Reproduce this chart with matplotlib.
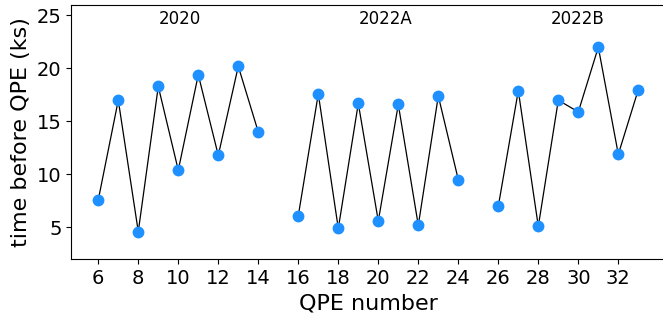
import numpy as np
import matplotlib
matplotlib.use("Agg")
import matplotlib.pyplot as plt

# QPE numbers and time before each QPE (ks), split by campaign
qpe_2020 = [6, 7, 8, 9, 10, 11, 12, 13, 14]
t_2020 = [7.6, 17.0, 4.6, 18.3, 10.4, 19.4, 11.8, 20.2, 14.0]

qpe_2022a = [16, 17, 18, 19, 20, 21, 22, 23, 24]
t_2022a = [6.1, 17.6, 4.9, 16.7, 5.6, 16.6, 5.2, 17.4, 9.5]

qpe_2022b = [26, 27, 28, 29, 30, 31, 32, 33]
t_2022b = [7.0, 17.9, 5.1, 17.0, 15.9, 22.0, 11.9, 18.0]

labels = ["2020", "2022A", "2022B"]
label_x = [9, 19, 28.6]

fig = plt.figure(figsize=(6.63, 3.22), dpi=100)
# right edge of the axes runs slightly past the picture, as in the original crop
ax = fig.add_axes([0.1075, 0.195, 0.896, 0.79])

for qpe, t in [(qpe_2020, t_2020), (qpe_2022a, t_2022a), (qpe_2022b, t_2022b)]:
    ax.plot(qpe, t, color="black", lw=0.9, zorder=1)
    ax.plot(qpe, t, "o", color="dodgerblue", ms=7.5, zorder=2)

for lab, x in zip(labels, label_x):
    ax.text(x, 24.7, lab, fontsize=12, ha="left", va="center")

ax.set_xlim(4.65, 34.35)
ax.set_ylim(2, 26)
ax.set_xticks(np.arange(6, 33, 2))
ax.set_yticks([5, 10, 15, 20, 25])
ax.tick_params(labelsize=14)
ax.set_xlabel("QPE number", fontsize=16)
ax.set_ylabel("time before QPE (ks)", fontsize=16)

fig.savefig("out.png", dpi=100)
